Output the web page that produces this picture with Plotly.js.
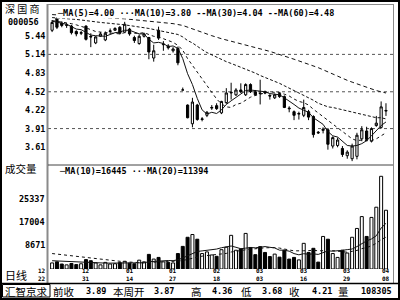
<!DOCTYPE html>
<html><head><meta charset="utf-8">
<script src="https://cdn.plot.ly/plotly-3.0.1.min.js"></script>
<style>html,body{margin:0;padding:0;background:#fff;}#chart{width:400px;height:300px;}</style>
</head><body><div id="chart"></div>
<script>
// ---- data ----
const openP = [5.54,5.74,5.66,5.62,5.61,5.52,5.49,5.61,5.44,5.33,
5.44,5.38,5.52,5.54,5.59,5.51,5.56,5.42,5.32,5.44,
5.42,5.08,5.54,5.30,5.28,5.20,5.24,4.55,4.30,3.99,
4.30,4.06,4.13,4.25,4.29,4.17,4.34,4.50,4.47,4.55,
4.47,4.64,4.52,4.50,4.52,4.46,4.42,4.49,4.44,4.25,
4.19,4.15,4.13,4.19,4.11,3.85,3.88,3.89,3.62,3.63,
3.58,3.46,3.41,3.45,3.74,3.87,3.70,3.96,3.93,4.20];
const highP = [5.71,5.76,5.69,5.66,5.63,5.54,5.53,5.62,5.49,5.44,
5.51,5.52,5.57,5.59,5.61,5.68,5.58,5.45,5.47,5.50,
5.43,5.30,5.60,5.36,5.31,5.26,5.27,4.59,4.31,4.42,
4.32,4.10,4.20,4.30,4.33,4.37,4.58,4.67,4.58,4.66,
4.66,4.66,4.55,4.72,4.54,4.48,4.49,4.51,4.46,4.28,
4.21,4.19,4.39,4.22,4.13,3.87,3.93,3.92,3.78,3.76,
3.62,3.55,3.66,3.84,3.95,3.94,3.93,4.12,4.36,4.33];
const lowP = [5.51,5.56,5.59,5.58,5.47,5.44,5.46,5.37,5.26,5.31,
5.43,5.36,5.47,5.53,5.47,5.50,5.45,5.33,5.30,5.42,
5.06,5.02,5.38,5.20,5.22,5.17,4.96,4.55,4.08,3.93,
4.04,4.03,4.10,4.22,4.22,4.15,4.32,4.39,4.45,4.50,
4.45,4.50,4.45,4.31,4.48,4.39,4.40,4.42,4.25,4.18,
4.05,4.06,4.10,4.05,3.76,3.82,3.83,3.56,3.58,3.60,
3.44,3.41,3.37,3.40,3.70,3.70,3.68,3.94,3.91,4.12];
const closeP = [5.67,5.59,5.62,5.63,5.50,5.48,5.50,5.39,5.43,5.43,
5.48,5.49,5.53,5.57,5.49,5.64,5.48,5.37,5.44,5.48,
5.18,5.20,5.41,5.31,5.25,5.23,5.00,4.55,4.09,4.35,
4.06,4.07,4.18,4.26,4.24,4.36,4.50,4.51,4.55,4.52,
4.64,4.52,4.47,4.49,4.50,4.45,4.47,4.44,4.26,4.24,
4.13,4.16,4.26,4.10,3.81,3.84,3.90,3.65,3.76,3.72,
3.48,3.52,3.62,3.80,3.89,3.73,3.91,4.00,4.27,4.21];
const ma5 = [5.69,5.67,5.66,5.64,5.60,5.56,5.55,5.50,5.46,5.45,
5.45,5.44,5.47,5.50,5.51,5.54,5.54,5.51,5.48,5.48,
5.39,5.33,5.34,5.32,5.27,5.28,5.24,5.07,4.82,4.64,
4.41,4.22,4.15,4.18,4.16,4.22,4.31,4.37,4.43,4.49,
4.54,4.55,4.54,4.53,4.52,4.49,4.48,4.47,4.42,4.37,
4.31,4.25,4.21,4.18,4.09,4.03,3.98,3.86,3.79,3.77,
3.70,3.63,3.62,3.63,3.66,3.71,3.79,3.87,3.96,4.02];
const ma10 = [5.70,5.69,5.68,5.67,5.65,5.63,5.61,5.58,5.55,5.52,
5.51,5.50,5.49,5.48,5.48,5.50,5.49,5.49,5.49,5.50,
5.47,5.44,5.43,5.40,5.38,5.34,5.29,5.21,5.07,4.96,
4.85,4.73,4.61,4.50,4.40,4.32,4.27,4.26,4.31,4.33,
4.38,4.43,4.46,4.48,4.51,4.52,4.51,4.51,4.48,4.45,
4.40,4.36,4.34,4.30,4.23,4.17,4.11,4.04,3.99,3.93,
3.87,3.80,3.74,3.71,3.72,3.71,3.71,3.74,3.79,3.84];
const ma30Idx = [0,5,10,15,20,25,26,27,28,29,30,31,32,33,34,35,36,37,38,39,40,41,42,43,44,45,46,47,48,49,50,51,52,53,54,55,56,57,58,59,60,61,62,63,64,65,66,67,68,69];
const ma30 = [5.75,5.72,5.67,5.63,5.57,5.49,5.47,5.43,5.37,5.33,5.27,5.22,5.17,5.13,5.09,5.05,5.02,4.99,4.96,4.93,4.90,4.87,4.83,4.79,4.76,4.72,4.69,4.66,4.62,4.58,4.54,4.51,4.47,4.43,4.38,4.33,4.30,4.27,4.26,4.24,4.22,4.20,4.18,4.16,4.15,4.13,4.11,4.09,4.09,4.07];
const ma60Idx = [0,5,10,15,20,25,27,29,31,33,35,40,45,50,55,59,60,61,62,63,64,65,66,67,68,69];
const ma60 = [5.80,5.78,5.75,5.73,5.69,5.65,5.62,5.56,5.51,5.45,5.40,5.30,5.19,5.06,4.92,4.78,4.74,4.71,4.68,4.65,4.62,4.59,4.56,4.54,4.52,4.50];
const volume = [2200,2600,1800,1500,2000,1600,1900,3400,3000,2200,
1500,2400,1800,1900,2300,2800,2100,1900,3200,2600,
5300,3600,4200,2600,2400,2200,5600,8200,11500,12500,
10800,5600,6200,5100,4600,7000,7900,12200,6800,7300,
12900,7800,5200,8100,6000,4500,5400,4300,6800,3600,
4200,3300,9300,6000,7500,2500,11800,10800,5600,4200,
6800,5800,11500,14700,19000,11800,18700,22400,33600,21300];
const volMa10 = [3000,2900,2800,2700,2600,2500,2400,2350,2300,2220,
2150,2130,2130,2170,2200,2320,2340,2190,2210,2250,
2630,2750,2990,3060,3070,3010,3360,3990,4820,5810,
6360,6560,6760,7010,7230,7710,7940,8340,7870,7350,
7560,7780,7680,7980,8120,7870,7620,6830,6830,6460,
5590,5140,5550,5340,5490,5290,5930,6580,6460,6520,
6780,7030,7250,8120,9270,10200,10890,12050,14850,16560];
const volMa20 = [5600,5400,5200,5000,4800,4600,4350,4100,3850,3600,
3400,3200,3000,2850,2700,2600,2500,2400,2320,2235,
2390,2440,2560,2615,2635,2665,2850,3090,3515,4030,
4495,4655,4875,5035,5150,5360,5650,6165,6345,6580,
6960,7170,7220,7495,7675,7790,7780,7585,7350,6905,
6575,6460,6615,6660,6805,6580,6775,6705,6645,6490,
6185,6085,6400,6730,7380,7745,8410,9315,10655,11540];
const priceTicks = [3.61,3.91,4.22,4.52,4.83,5.14,5.44];
const priceTickText = ['3.61','3.91','4.22','4.52','4.83','5.14','5.44'];
const priceGrid = [3.91,4.52,5.14];
const volTicks = [8671,17004,25337];
const volTickText = ['8671','17004','25337'];
const dateIdx = [-2,7,16,25,34,43,52,61,69];
const dateMonth = ['12','12','01','01','02','03','03','03','04'];
const dateDay = ['22','31','14','27','18','03','16','29','08'];
const priceLegend = '─MA(5)=4.00 ···MA(10)=3.80 --MA(30)=4.04 --MA(60)=4.48';
const volLegend = '─MA(10)=16445 ···MA(20)=11394';
const infoLabels = ['前收','本周开','高','低','收','量'];
const infoValues = ['3.89','3.87','4.36','3.68','4.21','108305'];

// ---- geometry (layout only) ----
const W=400,H=300,ML=40,MR=7,MT=5,MB=31;
const PW=W-ML-MR, PH=H-MT-MB;
const px = x => (x-ML)/PW;
const py = y => (H-MB-y)/PH;
const split = py(165);

const bars = openP.map((_,i)=>i);
const volColor = closeP.map((c,i)=> c>openP[i] ? '#ffffff' : '#000000');

const lineStyle = (dash)=>({color:'#111', width:1, dash:dash});
const traces = [
  {type:'candlestick', x:bars, open:openP, high:highP, low:lowP, close:closeP, xaxis:'x', yaxis:'y',
   increasing:{line:{color:'#000',width:1}, fillcolor:'#ffffff'},
   decreasing:{line:{color:'#000',width:1}, fillcolor:'#000000'},
   whiskerwidth:0, hoverinfo:'skip', showlegend:false},
  {type:'scatter', mode:'lines', x:bars, y:ma5, line:lineStyle('solid'), xaxis:'x', yaxis:'y', hoverinfo:'skip'},
  {type:'scatter', mode:'lines', x:bars, y:ma10, line:lineStyle('dot'), xaxis:'x', yaxis:'y', hoverinfo:'skip'},
  {type:'scatter', mode:'lines', x:ma30Idx, y:ma30, line:lineStyle('3px,2px'), xaxis:'x', yaxis:'y', hoverinfo:'skip'},
  {type:'scatter', mode:'lines', x:ma60Idx, y:ma60, line:lineStyle('4px,3px'), xaxis:'x', yaxis:'y', hoverinfo:'skip'},
  {type:'bar', x:bars, y:volume, width:0.62, xaxis:'x', yaxis:'y2',
   marker:{color:volColor, line:{color:'#000', width:1}}, hoverinfo:'skip'},
  {type:'scatter', mode:'lines', x:bars, y:volMa10, line:lineStyle('solid'), xaxis:'x', yaxis:'y2', hoverinfo:'skip'},
  {type:'scatter', mode:'lines', x:bars, y:volMa20, line:lineStyle('dot'), xaxis:'x', yaxis:'y2', hoverinfo:'skip'}
];

const monoB = (s)=>({family:'DejaVu Sans Mono', size:s, color:'#000', weight:'bold'});
const cjk = (s)=>({family:'Noto Sans CJK SC', size:s, color:'#000'});

const shapes = [];
priceGrid.forEach(v=>shapes.push({type:'line', xref:'paper', yref:'y', x0:px(48), x1:px(393), y0:v, y1:v,
  line:{color:'#555', width:1, dash:'dot'}, layer:'below'}));
shapes.push(
  {type:'rect', xref:'paper', yref:'paper', x0:px(1), x1:px(399), y0:py(299), y1:py(1), line:{color:'#000', width:2}},
  {type:'line', xref:'paper', yref:'paper', x0:px(47.5), x1:px(47.5), y0:py(283), y1:py(4), line:{color:'#8a8a8a', width:2}},
  {type:'line', xref:'paper', yref:'paper', x0:px(47), x1:px(394), y0:py(4.5), y1:py(4.5), line:{color:'#8a8a8a', width:1}},
  {type:'line', xref:'paper', yref:'paper', x0:px(393.5), x1:px(393.5), y0:py(283), y1:py(4), line:{color:'#8a8a8a', width:1}},
  {type:'line', xref:'paper', yref:'paper', x0:px(48), x1:px(393), y0:split, y1:split, line:{color:'#444', width:1}},
  {type:'line', xref:'paper', yref:'paper', x0:px(0), x1:px(400), y0:py(283.5), y1:py(283.5), line:{color:'#000', width:1.5}},
  {type:'rect', xref:'paper', yref:'paper', x0:px(2.5), x1:px(50), y0:py(297), y1:py(284.5), line:{color:'#000', width:1}}
);

const ann = [];
const A = (o)=>ann.push(Object.assign({showarrow:false, borderpad:0}, o));
priceTicks.forEach((v,i)=>A({xref:'paper', yref:'y', x:px(45.5), y:v, xanchor:'right', yanchor:'middle', text:priceTickText[i], font:monoB(8.5)}));
volTicks.forEach((v,i)=>A({xref:'paper', yref:'y2', x:px(45.5), y:v, xanchor:'right', yanchor:'middle', text:volTickText[i], font:monoB(8.5)}));
dateIdx.forEach((d,i)=>{
  A({xref:'x', yref:'paper', x:d, y:py(270.7), xanchor:'center', yanchor:'middle', text:dateMonth[i], font:monoB(6)});
  A({xref:'x', yref:'paper', x:d, y:py(278.6), xanchor:'center', yanchor:'middle', text:dateDay[i], font:monoB(6)});
});
A({xref:'paper', yref:'paper', x:px(56), y:py(13), xanchor:'left', yanchor:'middle', text:priceLegend, font:monoB(8.5), bgcolor:'#ffffff'});
A({xref:'paper', yref:'paper', x:px(58), y:py(171), xanchor:'left', yanchor:'middle', text:volLegend, font:monoB(8.5)});
A({xref:'paper', yref:'paper', x:px(4), y:py(9), xanchor:'left', yanchor:'middle', text:'深 国 商', font:cjk(10)});
A({xref:'paper', yref:'paper', x:px(7), y:py(22), xanchor:'left', yanchor:'middle', text:'000056', font:monoB(8.5)});
A({xref:'paper', yref:'paper', x:px(4), y:py(168), xanchor:'left', yanchor:'middle', text:'成交量', font:cjk(10.5)});
A({xref:'paper', yref:'paper', x:px(4), y:py(275), xanchor:'left', yanchor:'middle', text:'日线', font:cjk(11)});
A({xref:'paper', yref:'paper', x:px(26), y:py(291), xanchor:'center', yanchor:'middle', text:'汇智京求', font:cjk(10.5)});
const labelX = [52,112,190,240,288,337];
const valueRight = [107,175,233,283,333,393];
infoLabels.forEach((t,i)=>A({xref:'paper', yref:'paper', x:px(labelX[i]), y:py(291), xanchor:'left', yanchor:'middle', text:t, font:cjk(10.5)}));
infoValues.forEach((t,i)=>A({xref:'paper', yref:'paper', x:px(valueRight[i]), y:py(291), xanchor:'right', yanchor:'middle', text:t, font:monoB(8.5)}));

const axisOff = {showgrid:false, zeroline:false, showticklabels:false, ticks:'', showline:false, fixedrange:true};
const layout = {
  width:W, height:H, margin:{l:ML, r:MR, t:MT, b:MB, pad:0},
  paper_bgcolor:'#ffffff', plot_bgcolor:'#ffffff', showlegend:false, hovermode:false,
  boxgap:0.35, bargap:0.3,
  xaxis:Object.assign({range:[-2.5,70.45], anchor:'y2', rangeslider:{visible:false}}, axisOff),
  yaxis:Object.assign({domain:[split,1], range:[3.306,5.959]}, axisOff),
  yaxis2:Object.assign({domain:[0,split], range:[0,37700]}, axisOff),
  shapes:shapes, annotations:ann
};
Plotly.newPlot('chart', traces, layout, {staticPlot:true, displayModeBar:false});
</script>
</body></html>
